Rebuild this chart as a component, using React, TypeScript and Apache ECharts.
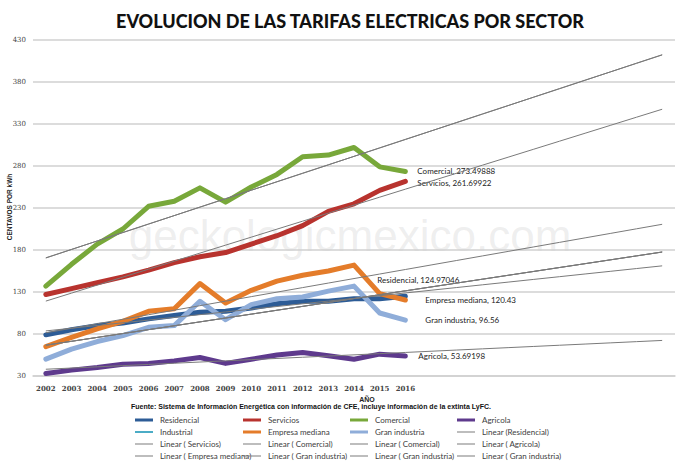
import React, { useEffect, useRef } from "react";
import * as echarts from "echarts";

const years = ["2002","2003","2004","2005","2006","2007","2008","2009","2010","2011","2012","2013","2014","2015","2016"];
const forecastYears = ["2017","2018","2019","2020","2021","2022","2023","2024","2025","2026"];
const categories = [...years, ...forecastYears];

const residencial = [79, 85, 90, 93, 98, 102, 106, 107, 111, 116, 119, 119, 122, 122, 124.97046];
const industrial: number[] = [];
const servicios = [127, 134, 141, 148, 156, 165, 172, 177, 187, 197, 209, 226, 235, 251, 261.69922];
const comercial = [137, 163, 187, 205, 232, 238, 254, 237, 255, 270, 291, 293, 302, 279, 273.49888];
const empresaMediana = [65, 76, 86, 95, 107, 110, 140, 117, 132, 143, 150, 155, 162, 128, 120.43];
const granIndustria = [50, 62, 71, 78, 88, 90, 119, 97, 115, 122, 124, 131, 137, 105, 96.56];
const agricola = [33, 37, 40, 44, 45, 48, 52, 45, 50, 55, 58, 54, 50, 56, 53.69198];

const yTicks = { min: 30, max: 430, interval: 50 };

// least-squares linear trend (as Excel "Linear" trendline), extended over all categories
function linearTrend(values: number[], n: number): number[] {
  const m = values.length;
  let sx = 0, sy = 0, sxx = 0, sxy = 0;
  values.forEach((v, i) => { sx += i; sy += v; sxx += i * i; sxy += i * v; });
  const slope = (m * sxy - sx * sy) / (m * sxx - sx * sx);
  const icpt = (sy - slope * sx) / m;
  return Array.from({ length: n }, (_, i) => +(icpt + slope * i).toFixed(3));
}

const FONT = "Lato, 'DejaVu Sans', sans-serif";

export default function App() {
  const ref = useRef<HTMLDivElement>(null);
  useEffect(() => {
    if (!ref.current) return;
    const chart = echarts.init(ref.current, null, { renderer: "svg" });
    const n = categories.length;

    const mainLine = (name: string, data: number[], color: string, label: any, width = 5) => ({
      name,
      type: "line",
      data: data.map((v, i) =>
        i === data.length - 1
          ? {
              value: v,
              symbol: "circle",
              symbolSize: 2,
              itemStyle: { color: "rgba(0,0,0,0)", borderWidth: 0 },
              label: {
                show: true,
                formatter: `${name}, ${v}`,
                fontFamily: FONT,
                fontSize: 8,
                color: "#222",
                ...label,
              },
            }
          : { value: v, symbol: "none" }
      ),
      symbol: "none",
      showSymbol: true,
      smooth: false,
      z: 2,
      lineStyle: { color, width, cap: "round", join: "round" },
      itemStyle: { color },
    });

    const trend = (name: string, data: number[]) => ({
      name,
      type: "line",
      data: linearTrend(data, n),
      symbol: "none",
      silent: true,
      z: 4,
      lineStyle: { color: "#7a7a7a", width: 1 },
      itemStyle: { color: "#7a7a7a" },
    });

    const thick = "path://M0 0H18V3H0Z";
    const thin = "path://M0 0H18V1H0Z";
    const legendCol = (left: number, items: { name: string; icon: string }[]) => ({
      orient: "vertical",
      left,
      top: 414,
      padding: 0,
      itemWidth: 18,
      itemHeight: 12,
      itemGap: 0,
      selectedMode: false,
      textStyle: { fontFamily: FONT, fontSize: 8, lineHeight: 12, color: "#404040", padding: [0, 0, 0, 2] },
      data: items,
    });

    chart.setOption({
      animation: false,
      backgroundColor: "#ffffff",
      title: {
        text: "EVOLUCION DE LAS TARIFAS ELECTRICAS POR SECTOR",
        left: "center",
        top: 7,
        textStyle: { fontFamily: "Lato, 'Open Sans', sans-serif", fontWeight: 900, fontSize: 18, color: "#111" },
      },
      grid: { left: 33, right: 25, top: 40, bottom: 90, outerBoundsMode: "none", containLabel: false },
      xAxis: {
        type: "category",
        data: categories,
        boundaryGap: true,
        axisLine: { show: true, lineStyle: { color: "#d0d0d0", width: 1.5 } },
        axisTick: { show: false },
        axisLabel: {
          interval: 0,
          margin: 9,
          fontFamily: "'DejaVu Serif', 'Liberation Serif', serif",
          fontSize: 7,
          fontWeight: "bold",
          color: "#444",
          formatter: (v: string, i: number) => (i < years.length ? v : ""),
        },
        splitLine: { show: false },
      },
      yAxis: {
        type: "value",
        min: yTicks.min,
        max: yTicks.max,
        interval: yTicks.interval,
        axisLine: { show: false },
        axisTick: { show: false },
        axisLabel: {
          margin: 7,
          fontFamily: "'DejaVu Serif', 'Liberation Serif', serif",
          fontSize: 7,
          color: "#444",
        },
        splitLine: { lineStyle: { color: "#d0d0d0", width: 1.5 } },
      },
      legend: [
        legendCol(135, [
          { name: "Residencial", icon: thick },
          { name: "Industrial", icon: "path://M0 0H18V2H0Z" },
          { name: "Linear ( Servicios)", icon: thin },
          { name: "Linear ( Empresa mediana)", icon: thin },
        ]),
        legendCol(243, [
          { name: "Servicios", icon: thick },
          { name: "Empresa mediana", icon: thick },
          { name: "Linear ( Comercial)", icon: thin },
          { name: "Linear ( Gran industria)", icon: thin },
        ]),
        legendCol(350, [
          { name: "Comercial", icon: thick },
          { name: "Gran industria", icon: thick },
          { name: "Linear ( Comercial)", icon: thin },
          { name: "Linear ( Gran industria)", icon: thin },
        ]),
        legendCol(457, [
          { name: "Agricola", icon: thick },
          { name: "Linear (Residencial)", icon: thin },
          { name: "Linear ( Agricola)", icon: thin },
          { name: "Linear ( Gran industria)", icon: thin },
        ]),
      ],
      graphic: [
        {
          type: "text",
          left: "center",
          top: 213,
          z: 0,
          silent: true,
          style: {
            text: "geckologicmexico.com",
            font: "44px 'Liberation Sans', Arial, sans-serif",
            fill: "rgba(170,170,170,0.2)",
          },
        },
        {
          type: "text",
          x: 9,
          y: 207,
          rotation: Math.PI / 2,
          style: {
            text: "CENTAVOS POR kWh",
            font: "bold 6.5px 'Liberation Sans', Arial, sans-serif",
            fill: "#222",
            textAlign: "center",
            textVerticalAlign: "middle",
          },
        },
        {
          type: "text",
          x: 367,
          y: 399,
          style: {
            text: "AÑO",
            font: "bold 7px 'Liberation Sans', Arial, sans-serif",
            fill: "#222",
            textAlign: "center",
            textVerticalAlign: "middle",
          },
        },
        {
          type: "text",
          x: 311,
          y: 406,
          style: {
            text: "Fuente: Sistema de Información Energética con información de CFE, incluye información de la extinta LyFC.",
            font: "bold 7px 'Liberation Sans', Arial, sans-serif",
            fill: "#111",
            textAlign: "center",
            textVerticalAlign: "middle",
          },
        },
      ],
      series: [
        mainLine("Residencial", residencial, "#2d5c96", { position: "top", distance: 5, offset: [13, -6] }),
        mainLine("Industrial", industrial, "#4bacc6", {}, 3),
        mainLine("Servicios", servicios, "#b8332e", { position: "right", distance: 5, offset: [6, 2] }),
        mainLine("Comercial", comercial, "#78a83a", { position: "right", distance: 5, offset: [6, 0] }),
        mainLine("Empresa mediana", empresaMediana, "#e47c2a", { position: "right", distance: 5, offset: [14, 0] }),
        mainLine("Gran industria", granIndustria, "#8fadd9", { position: "right", distance: 5, offset: [14, 0] }),
        mainLine("Agricola", agricola, "#5e3a8d", { position: "right", distance: 5, offset: [7, 0] }),
        trend("Linear (Residencial)", residencial),
        trend("Linear ( Servicios)", servicios),
        trend("Linear ( Comercial)", comercial),
        trend("Linear ( Comercial)", comercial),
        trend("Linear ( Agricola)", agricola),
        trend("Linear ( Empresa mediana)", empresaMediana),
        trend("Linear ( Gran industria)", granIndustria),
        trend("Linear ( Gran industria)", granIndustria),
        trend("Linear ( Gran industria)", granIndustria),
      ],
    });
    return () => chart.dispose();
  }, []);
  return <div ref={ref} style={{ width: 700, height: 466, position: "absolute", left: 0, top: 0 }} />;
}
